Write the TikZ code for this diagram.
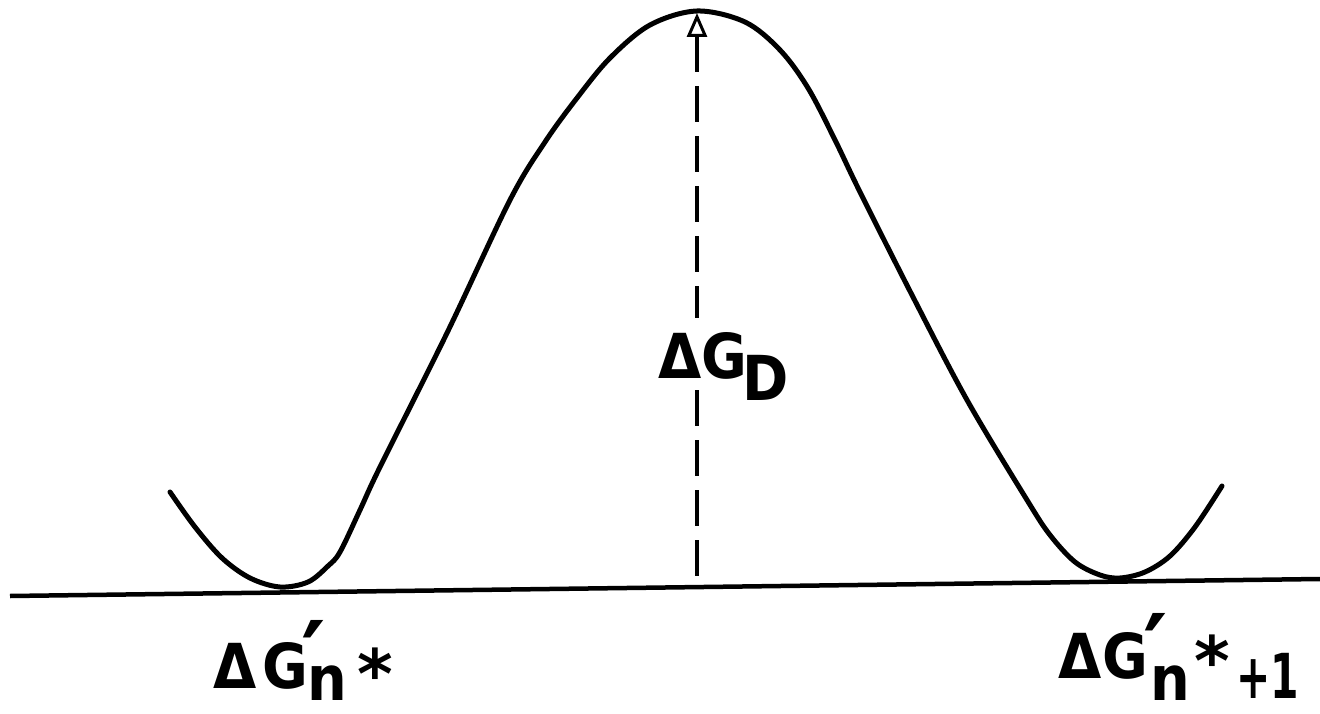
\documentclass[tikz,border=0pt]{standalone}
\usepackage{fontspec}
\setmainfont{DejaVu Sans}
\usetikzlibrary{arrows.meta}
\tikzset{
  lbl/.style={inner sep=0pt, font=\fontsize{62}{62}\selectfont\bfseries, anchor=base west},
  curve/.style={line width=5pt, line cap=round, line join=round},
  axisline/.style={line width=4.5pt},
  dashline/.style={line width=4pt, dash pattern=on 36pt off 14pt}
}
\newcommand{\nar}[1]{\scalebox{0.9}[1]{#1}}
\newcommand{\narr}[1]{\scalebox{0.66}[1]{#1}}
\newcommand{\prim}{\scalebox{1.5}[1.55]{′}}
% overlay a prime centred #1 to the right, lowered by #2
\newcommand{\primat}[2]{\makebox[0pt][l]{\hspace{#1}\makebox[0pt][c]{\raisebox{#2}{\prim}}}}
\newcommand{\mystar}[1]{\raisebox{#1}{\scalebox{1.1}{*}}}
\begin{document}
\begin{tikzpicture}[x=1pt,y=-1pt]
\useasboundingbox (0,0) rectangle (1320,714);
\fill[white] (0,0) rectangle (1320,714);
% baseline
\coordinate (bl) at (10,596);
\coordinate (br) at (1320,579);
\draw[axisline] (bl) -- (br);
% energy curve
\draw[curve] plot[smooth, tension=0.55] coordinates {
(170,492) (195,527) (222,558) (250,578) (280,587) (308,582) (328,566) (340,552)
(360,510) (380,467) (447,333) (510,200) (545,142) (577,98) (610,58) (650,25) (697,11)
(745,22) (780,50) (808,88) (835,140) (860,192) (913,297) (967,400) (1027,500) (1050,535)
(1075,562) (1100,575) (1120,578) (1145,572) (1170,556) (1195,527) (1222,486)};
% dashed barrier line
\coordinate (top) at (697,13);
\coordinate (gapT) at (697,318);
\coordinate (gapB) at (697,390);
\coordinate (bot) at (697,583);
\draw[dashline, {Triangle[open, width=20pt, length=24pt, line width=3pt]}-] (top) -- (gapT);
\draw[dashline] (gapB) -- (bot);
% Delta G_D
\node[lbl] (lD) at (658,378) {\makebox[43pt][l]{\nar{Δ}}\makebox[41pt][l]{\nar{G}}\raisebox{-22pt}{\nar{D}}};
% left label
\node[lbl] (lL) at (213,688) {\makebox[49pt][l]{\nar{Δ}}\makebox[45pt][l]{\nar{G}}\primat{7pt}{-2pt}\raisebox{-12pt}{\makebox[50pt][l]{\nar{n}}}\mystar{-10pt}};
% right label
\node[lbl] (lR) at (1058,678) {\makebox[44pt][l]{\nar{Δ}}\makebox[48pt][l]{\nar{G}}\primat{6pt}{-5pt}\raisebox{-22pt}{\makebox[44pt][l]{\nar{n}}}\makebox[42pt][l]{\mystar{-7pt}}\raisebox{-20pt}{\narr{+1}}};
\end{tikzpicture}
\end{document}
